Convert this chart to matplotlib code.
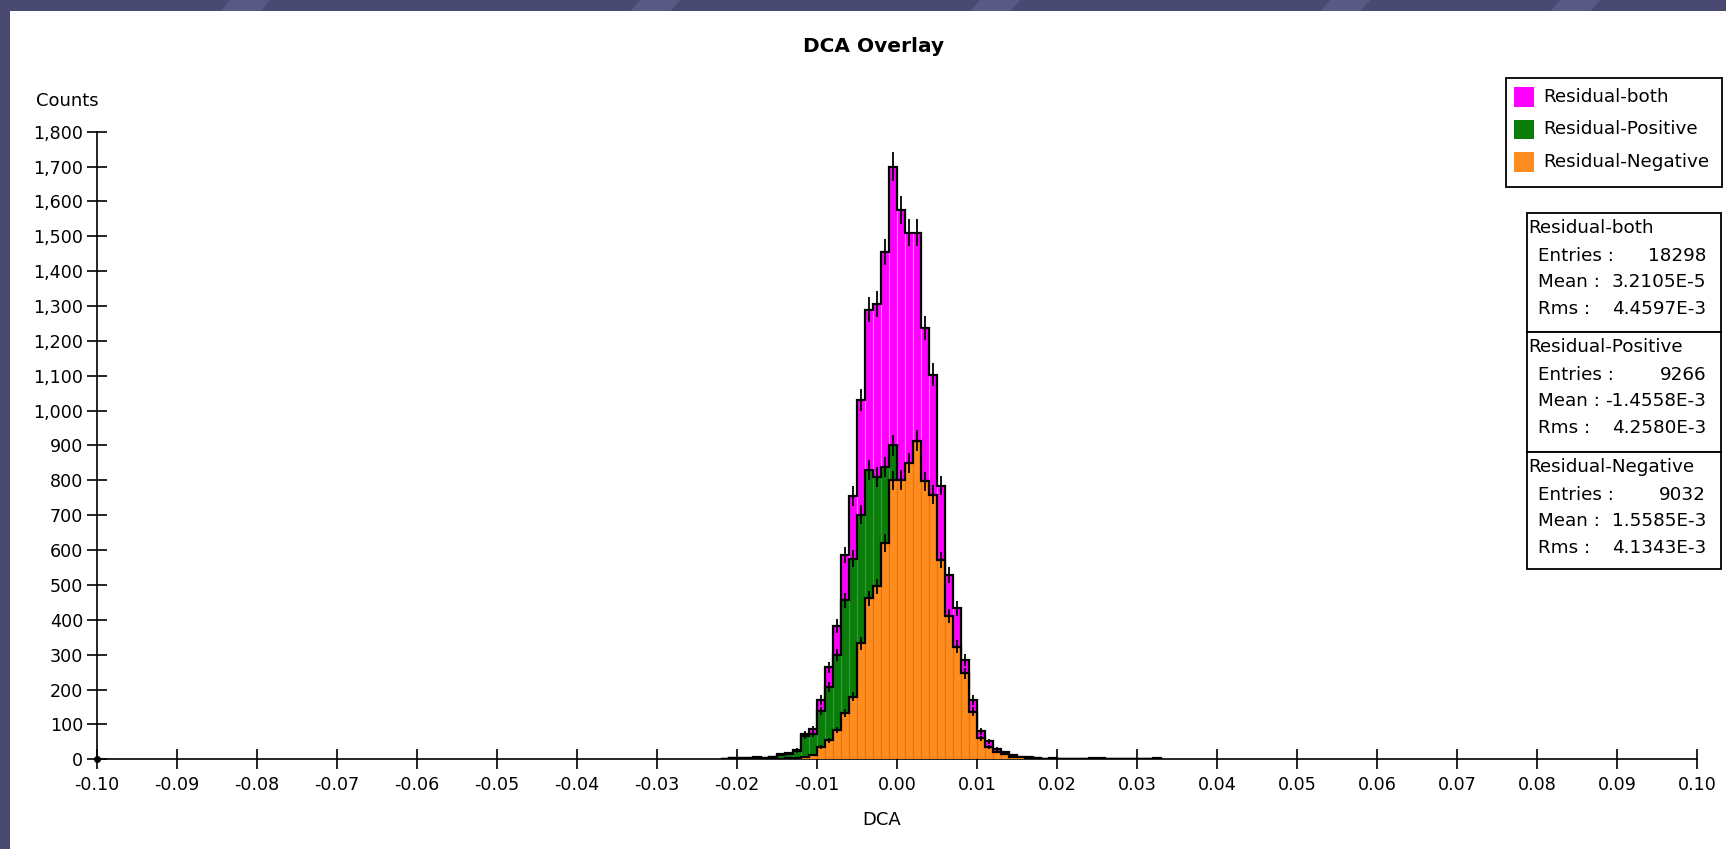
import numpy as np
import matplotlib
matplotlib.use("Agg")
import matplotlib.pyplot as plt
from matplotlib.patches import Rectangle, Polygon

plt.rcParams['axes.unicode_minus'] = False
plt.rcParams['font.family'] = 'DejaVu Sans'

# histogram bins: left edge of first bin and bin width (DCA units)
bin_lo = -0.022
bin_w = 0.001

# counts per bin, bins from -0.022 up to 0.033
both = [2, 4, 5, 4, 6, 5, 8, 14, 18, 27, 72, 86, 170, 264, 382, 586, 755, 1030, 1290, 1306,
        1455, 1700, 1575, 1510, 1510, 1237, 1103, 785, 529, 433, 285, 170, 80, 52, 30, 20,
        12, 8, 7, 5, 1, 4, 2, 0, 0, 0, 3, 3, 0, 0, 0, 0, 0, 0, 3]
positive = [2, 4, 4, 3, 5, 4, 7, 12, 15, 23, 66, 73, 138, 208, 298, 456, 575, 702, 830, 810,
            838, 900, 773, 660, 596, 440, 344, 213, 119, 110, 38, 33, 20, 16, 8, 5,
            4, 2, 2, 1, 0, 2, 1, 0, 0, 0, 2, 1, 0, 0, 0, 0, 0, 0, 2]
negative = [0, 0, 1, 1, 1, 1, 1, 2, 3, 4, 6, 13, 36, 55, 84, 132, 180, 333, 462, 496,
            620, 800, 802, 850, 914, 797, 759, 572, 410, 323, 247, 137, 60, 36, 22, 15,
            8, 6, 5, 4, 1, 2, 1, 0, 0, 0, 1, 2, 0, 0, 0, 0, 0, 0, 1]

names = ['Residual-both', 'Residual-Positive', 'Residual-Negative']
entries = ['18298', '9266', '9032']
means = ['3.2105E-5', '-1.4558E-3', '1.5585E-3']
rmss = ['4.4597E-3', '4.2580E-3', '4.1343E-3']

colors = ['#ff00ff', '#0a7d0a', '#ff8c1f']
sep_colors = ['#ff8cff', '#3c9a3c', '#e8740e']

W, H = 1726, 849


def fx(x):
    return x / W


def fy(y):
    return 1 - y / H


fig = plt.figure(figsize=(W / 100, H / 100), dpi=100, facecolor='#4a4971')

# slide background stripes and white panel
for x0 in [230, 640, 980, 1330, 1560]:
    fig.add_artist(Polygon([(fx(x0), 1), (fx(x0 + 40), 1), (fx(x0 + 30), fy(12)), (fx(x0 - 10), fy(12))],
                           closed=True, transform=fig.transFigure, color='#5a5986', lw=0, zorder=0))
fig.add_artist(Rectangle((fx(10), 0), 1, fy(11), transform=fig.transFigure,
                         facecolor='white', edgecolor='none', zorder=0))

ax = fig.add_axes([fx(97), fy(759.3), 1600 / W, 627.6 / H])
ax.set_facecolor('none')

nb = len(both)
edges = bin_lo + bin_w * np.arange(nb + 1)
centers = edges[:-1] + bin_w / 2

z = 2
for vals, c, sc in zip([both, positive, negative], colors, sep_colors):
    v = np.array(vals, dtype=float)
    ax.bar(edges[:-1], v, width=bin_w, align='edge', color=c, edgecolor=sc,
           linewidth=0.8, zorder=z)
    ax.stairs(v, edges, color='black', linewidth=1.6, zorder=z + 1)
    m = v > 0
    err = np.sqrt(v[m])
    ax.vlines(centers[m], v[m] - err, v[m] + err, color='black', linewidth=1.3, zorder=z + 2)
    z += 3

# underflow marker at the axis origin
ax.plot([-0.1], [0], 'o', color='black', ms=4, clip_on=False, zorder=20)

ax.set_xlim(-0.1, 0.1)
ax.set_ylim(0, 1800)
xt = np.round(np.arange(-0.10, 0.1001, 0.01), 2)
ax.set_xticks(xt)
ax.set_xticklabels(['%.2f' % (t + 0.0) for t in xt])
yt = np.arange(0, 1801, 100)
ax.set_yticks(yt)
ax.set_yticklabels(['{:,}'.format(t) for t in yt])
for s in ['top', 'right']:
    ax.spines[s].set_visible(False)
for s in ['left', 'bottom']:
    ax.spines[s].set_linewidth(1.2)
ax.tick_params(direction='inout', length=13.7, width=1.2, labelsize=12.6, colors='black')
ax.tick_params(axis='y', pad=3)
ax.tick_params(axis='x', pad=5)

fig.text(fx(874), fy(47), 'DCA Overlay', ha='center', va='center', fontsize=14.5, fontweight='bold')
fig.text(fx(36), fy(101), 'Counts', ha='left', va='center', fontsize=13)
fig.text(fx(882), fy(820), 'DCA', ha='center', va='center', fontsize=13)

# legend box
fig.add_artist(Rectangle((fx(1506), fy(187)), 216 / W, 109 / H, transform=fig.transFigure,
                         facecolor='white', edgecolor='black', lw=1.3, zorder=5))
for i, (nm, c) in enumerate(zip(names, colors)):
    yc = 97 + 32.5 * i
    fig.add_artist(Rectangle((fx(1514), fy(yc + 9.5)), 20 / W, 19 / H, transform=fig.transFigure,
                             facecolor=c, edgecolor='none', zorder=6))
    fig.text(fx(1543), fy(yc), nm, ha='left', va='center', fontsize=13.2, zorder=6)

# statistics box
sec_top = [213, 332, 452]
sec_h = [119, 120, 117]
for i in range(3):
    t = sec_top[i]
    fig.add_artist(Rectangle((fx(1527), fy(t + sec_h[i])), 194 / W, sec_h[i] / H,
                             transform=fig.transFigure, facecolor='white', edgecolor='black',
                             lw=1.3, zorder=5))
    fig.text(fx(1528), fy(t + 15), names[i], ha='left', va='center', fontsize=13.2, zorder=6)
    rows = [('Entries :', entries[i]), ('Mean :', means[i]), ('Rms :', rmss[i])]
    for j, (lab, val) in enumerate(rows):
        yy = t + 43 + 26.5 * j
        fig.text(fx(1538), fy(yy), lab, ha='left', va='center', fontsize=13.2, zorder=6)
        fig.text(fx(1706), fy(yy), val, ha='right', va='center', fontsize=13.2, zorder=6)

fig.savefig('out.png', dpi=100, facecolor=fig.get_facecolor())
